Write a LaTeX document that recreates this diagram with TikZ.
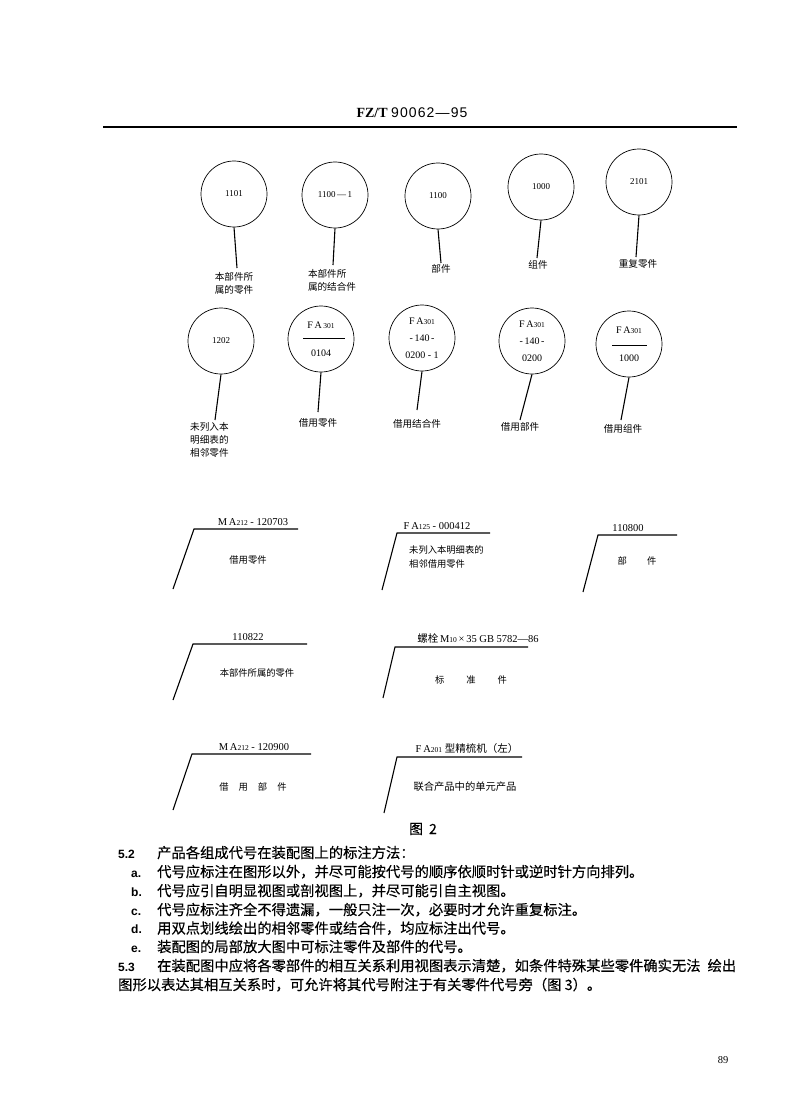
\documentclass[tikz,border=0pt]{standalone}
\usepackage{fontspec}
\setmainfont{Liberation Serif}
\newfontfamily\cjk{Noto Sans CJK SC}
\newfontfamily\cjkbody[FakeBold=0.35]{Noto Sans CJK SC}
\newfontfamily\hdsans[LetterSpace=8]{Liberation Sans}
\newfontfamily\itemsans{Liberation Sans}
\usetikzlibrary{calc}
\newcommand\smalldig[1]{{\fontsize{7.5}{8}\selectfont #1}}

\begin{document}
\begin{tikzpicture}[
    x=1pt, y=-1pt,
    % Balloon with a part code
    balloon/.style={draw, circle, line width=0.7pt, minimum size=66pt, inner sep=0pt, align=center, font=\fontsize{9}{17}\selectfont},
    % Balloon with a borrowed code
    borrowed/.style={balloon, font=\fontsize{10}{17}\selectfont},
    % Leader line of a balloon or a flag
    leader/.style={line width=1.1pt},
    % Name under a balloon
    tag/.style={anchor=north, align=left, inner sep=1pt, font=\cjk\fontsize{9.6}{13}\selectfont},
    % Code above a flag line, name below it
    flagcode/.style={anchor=south, inner sep=1pt, font=\fontsize{10.5}{12}\selectfont},
    flagtext/.style={align=left, inner sep=0pt, font=\cjk\fontsize{9.3}{14}\selectfont},
    % Running text of the page
    body/.style={anchor=base west, inner sep=0pt, font=\cjkbody\fontsize{14.3}{16}\selectfont},
    item/.style={anchor=base west, inner sep=0pt, font=\itemsans\bfseries\fontsize{12}{14}\selectfont}
]
\useasboundingbox (0,0) rectangle (800,1110);

% ================= Page head =================
\node[font=\fontsize{14}{16}\selectfont] (head) at (412,113) {{\bfseries FZ/T}\ {\hdsans 90062—95}};
\coordinate (ruleL) at (103,127);
\coordinate (ruleR) at (737,127);
\draw[line width=1.6pt] (ruleL) -- (ruleR);

% ================= Balloons, upper row =================
\node[balloon] (b1) at (234,194) {1101};
\node[balloon] (b2) at (335,195) {1100\,—\,1};
\node[balloon] (b3) at (438,196) {1100};
\node[balloon] (b4) at (541,187) {1000};
\node[balloon] (b5) at (639,182) {2101};

\coordinate (t1) at (237,268);
\coordinate (t2) at (333,265);
\coordinate (t3) at (441,263);
\coordinate (t4) at (537,258);
\coordinate (t5) at (636,257);
\foreach \i in {1,...,5}
  \draw[leader] (b\i.south) -- (t\i);

\node[tag] (n1) at (234,271) {本部件所\\属的零件};
\node[tag] (n2) at (332,268) {本部件所\\属的结合件};
\node[tag] (n3) at (441,263) {部件};
\node[tag] (n4) at (538,259) {组件};
\node[tag] (n5) at (638,258) {重复零件};

% ================= Balloons, lower row =================
\node[balloon] (b6) at (221,341) {1202};
\node[borrowed] (b7) at (321,339) {F\,A\,\smalldig{301}\\[11pt]0104};
\node[borrowed] (b8) at (422,338) {F\,A\smalldig{301}\\-\,140\,-\\0200 - 1};
\node[borrowed] (b9) at (532,341) {F\,A\smalldig{301}\\-\,140\,-\\0200};
\node[borrowed] (b10) at (629,344) {F\,A\smalldig{301}\\[11pt]1000};
\draw[line width=0.9pt] ($(b7)+(-18,-1)$) -- ($(b7)+(24,-1)$);
\draw[line width=0.9pt] ($(b10)+(-17,1)$) -- ($(b10)+(18,1)$);

\coordinate (t6) at (215,420);
\coordinate (t7) at (318,412);
\coordinate (t8) at (417,410);
\coordinate (t9) at (520,420);
\coordinate (t10) at (621,420);
\foreach \i in {6,...,10}
  \draw[leader] (b\i.south) -- (t\i);

\node[tag, anchor=north west] (n6) at (189,421) {未列入本\\明细表的\\相邻零件};
\node[tag] (n7) at (318,417) {借用零件};
\node[tag] (n8) at (417,418) {借用结合件};
\node[tag] (n9) at (520,421) {借用部件};
\node[tag] (n10) at (623,423) {借用组件};

% ================= Flags =================
% corner, end of the code line, foot of the leader
\coordinate (k1) at (194,529); \coordinate (e1) at (298,529); \coordinate (p1) at (173,589);
\coordinate (k2) at (397,533); \coordinate (e2) at (490,533); \coordinate (p2) at (382,590);
\coordinate (k3) at (598,535); \coordinate (e3) at (677,535); \coordinate (p3) at (583,592);
\coordinate (k4) at (193,644); \coordinate (e4) at (307,644); \coordinate (p4) at (173,700);
\coordinate (k5) at (395,647); \coordinate (e5) at (528,647); \coordinate (p5) at (383,698);
\coordinate (k6) at (192,754); \coordinate (e6) at (311,754); \coordinate (p6) at (173,810);
\coordinate (k7) at (397,757); \coordinate (e7) at (522,757); \coordinate (p7) at (384,813);
\foreach \i in {1,...,7}
  \draw[leader] (p\i) -- (k\i) -- (e\i);

\node[flagcode] (m1) at (253,527) {M\,A\smalldig{212} - 120703};
\node[flagcode] (m2) at (437,531) {F\,A\smalldig{125} - 000412};
\node[flagcode] (m3) at (628,533) {110800};
\node[flagcode] (m4) at (248,642) {110822};
\node[flagcode] (m5) at (478,645) {{\cjk 螺栓}\,M\smalldig{10}\,×\,35 GB 5782—86};
\node[flagcode] (m6) at (254,752) {M\,A\smalldig{212} - 120900};
\node[flagcode] (m7) at (467,755) {F\,A\smalldig{201}\ {\cjk 型精梳机（左）}};

\node[flagtext] (x1) at (248,560) {借用零件};
\node[flagtext, anchor=north west] (x2) at (409,545) {未列入本明细表的\\相邻借用零件};
\node[flagtext] (x3) at (637,561) {部\hspace{20pt}件};
\node[flagtext] (x4) at (257,673) {本部件所属的零件};
\node[flagtext] (x5) at (471,680) {标\hspace{22pt}准\hspace{22pt}件};
\node[flagtext] (x6) at (253,787) {借\hspace{10pt}用\hspace{10pt}部\hspace{10pt}件};
\node[flagtext, font=\cjk\fontsize{10.3}{14}\selectfont] (x7) at (465,787) {联合产品中的单元产品};

% ================= Caption and text =================
\node[font=\cjkbody\fontsize{14}{16}\selectfont] (cap) at (423,829) {图\hspace{6pt}2};

\node[item] (s52) at (118,858) {5.2};
\node[body] (l0) at (157,858) {产品各组成代号在装配图上的标注方法：};
\node[item] (ia) at (131,877) {a.};
\node[body] (l1) at (157,877) {代号应标注在图形以外，并尽可能按代号的顺序依顺时针或逆时针方向排列。};
\node[item] (ib) at (131,896) {b.};
\node[body] (l2) at (157,896) {代号应引自明显视图或剖视图上，并尽可能引自主视图。};
\node[item] (ic) at (131,915) {c.};
\node[body] (l3) at (157,915) {代号应标注齐全不得遗漏，一般只注一次，必要时才允许重复标注。};
\node[item] (id) at (131,933.5) {d.};
\node[body] (l4) at (157,933.5) {用双点划线绘出的相邻零件或结合件，均应标注出代号。};
\node[item] (ie) at (131,952) {e.};
\node[body] (l5) at (157,952) {装配图的局部放大图中可标注零件及部件的代号。};
\node[item] (s53) at (118,971) {5.3};
\node[body] (l6) at (157,971) {在装配图中应将各零部件的相互关系利用视图表示清楚，如条件特殊某些零件确实无法\hspace{7pt}绘出};
\node[body] (l7) at (118,990) {图形以表达其相互关系时，可允许将其代号附注于有关零件代号旁（图 3）。};

\node[font=\fontsize{10.5}{12}\selectfont] (page) at (723,1060) {89};
\end{tikzpicture}
\end{document}
